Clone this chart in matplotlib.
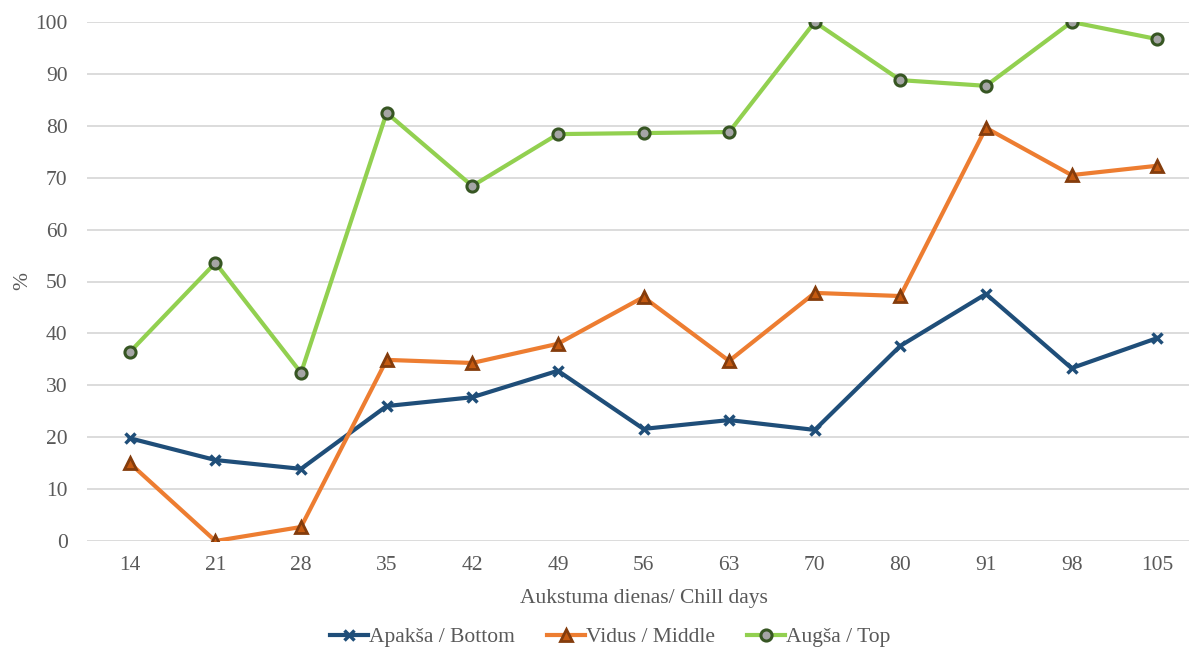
import numpy as np
import matplotlib.pyplot as plt

plt.rcParams['font.family'] = ['Liberation Serif', 'DejaVu Serif']

days = ['14', '21', '28', '35', '42', '49', '56', '63', '70', '80', '91', '98', '105']
bottom = [19.8, 15.6, 13.9, 26.0, 27.7, 32.8, 21.6, 23.3, 21.4, 37.6, 47.6, 33.3, 39.1]
middle = [15.0, 0.0, 2.7, 34.9, 34.3, 38.0, 47.0, 34.7, 47.8, 47.2, 79.6, 70.5, 72.3]
top = [36.4, 53.6, 32.4, 82.5, 68.4, 78.4, 78.6, 78.8, 100.0, 88.8, 87.7, 100.0, 96.7]

fig = plt.figure(figsize=(11.89, 6.48), dpi=100)
ax = fig.add_axes([87 / 1189, 1 - 541 / 648, 1113 / 1189, 519 / 648])

fs = 15.5
x = np.arange(len(days))
ax.plot(x, bottom, color='#1F4E79', lw=3, marker='x', ms=7, mew=2.5,
        mec='#1F4E79', label='Apakša / Bottom', zorder=3)
ax.plot(x, middle, color='#ED7D31', lw=3, marker='^', ms=8,
        mfc='#C55A11', mec='#843C0C', mew=2, label='Vidus / Middle', zorder=3)
ax.plot(x, top, color='#92D050', lw=3, marker='o', ms=8,
        mfc='#A5A5A5', mec='#375623', mew=2.2, label='Augša / Top', zorder=3)

ax.set_xlim(-0.5, len(days) - 0.5)
ax.set_ylim(0, 100)
ax.set_xticks(x)
ax.set_xticklabels(days)
ax.set_yticks(range(0, 101, 10))
ax.grid(axis='y', color='#D9D9D9', lw=1.3)
ax.set_axisbelow(True)
for s in ax.spines.values():
    s.set_visible(False)
ax.tick_params(length=0, labelsize=fs, labelcolor='#595959', pad=11)
ax.tick_params(axis='y', pad=14)
ax.set_xlabel('Aukstuma dienas/ Chill days', fontsize=fs, color='#595959', labelpad=10)
ax.set_ylabel('%', fontsize=fs, color='#595959', labelpad=2)

fig.legend(loc='center', bbox_to_anchor=(610 / 1189, 1 - 637 / 648), ncol=3,
           frameon=False, fontsize=fs, labelcolor='#595959',
           handlelength=1.75, handletextpad=0.05, columnspacing=1.5)

fig.savefig('out.png', dpi=100)
